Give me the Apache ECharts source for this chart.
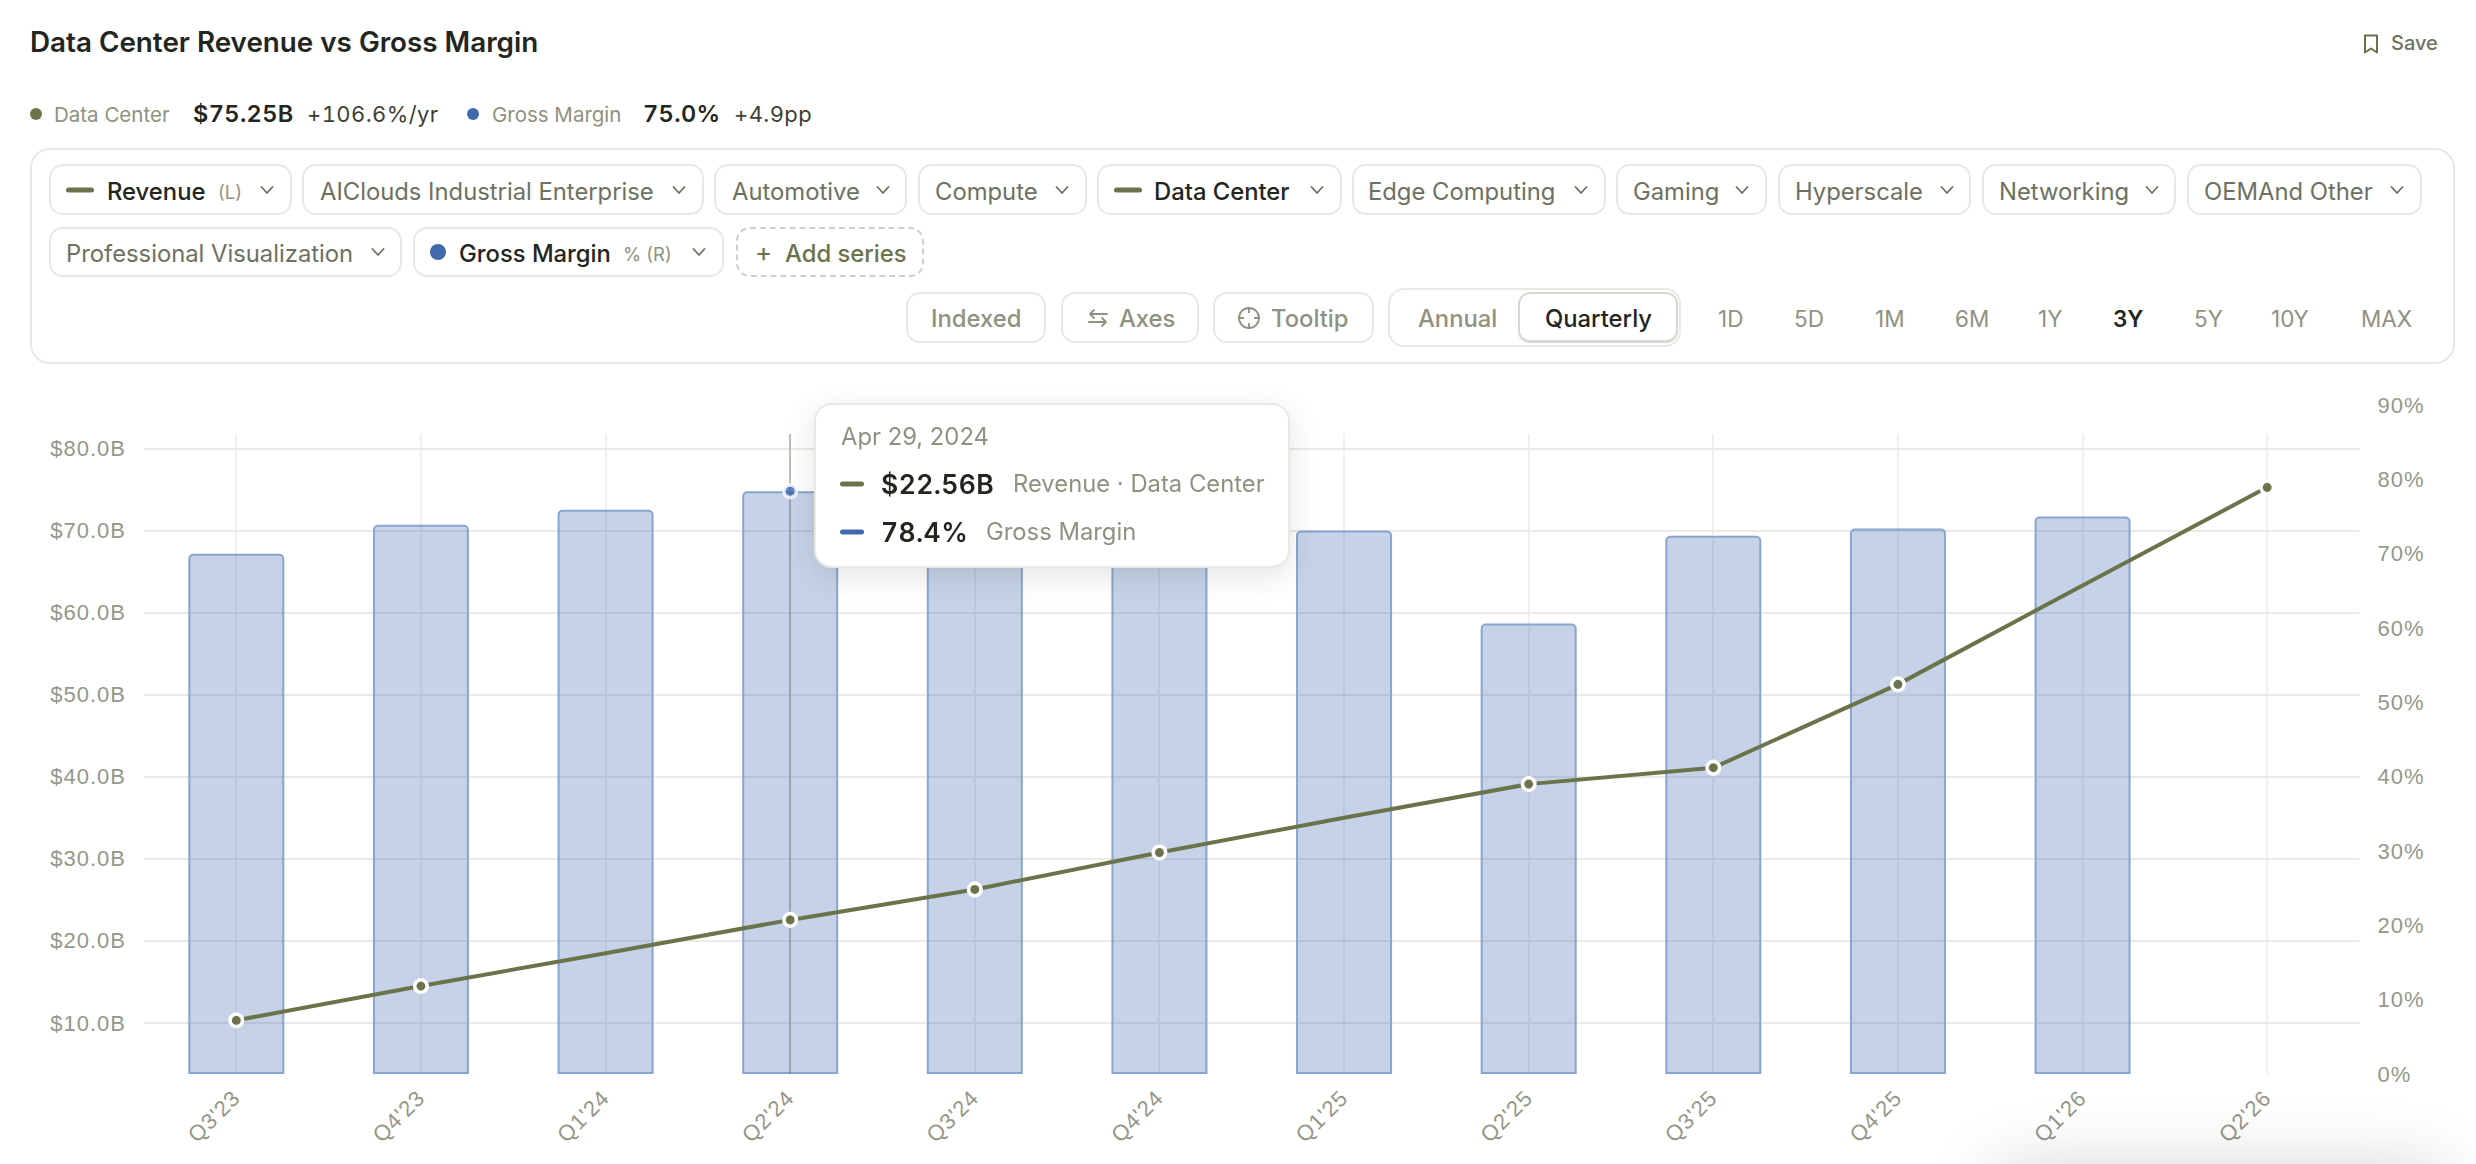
<!DOCTYPE html>
<html><head><meta charset="utf-8">
<script src="https://cdn.jsdelivr.net/npm/echarts@6/dist/echarts.min.js"></script>
<style>
html,body{margin:0;padding:0;background:#fff;width:2476px;height:1164px;overflow:hidden;font-family:Inter,sans-serif}
#chart{position:absolute;left:0;top:0;width:2476px;height:1164px}
#chart svg text{letter-spacing:1px}
.t{position:absolute;white-space:nowrap;line-height:1;transform:translateY(-50%)}
.n{font-variant-numeric:tabular-nums;letter-spacing:.4px}
.box{position:absolute;box-sizing:border-box;border:2px solid #e9e9e3;border-radius:14px;background:#fff}
.ico{position:absolute;transform:translate(-50%,-50%);display:block}
#shade{position:absolute;left:2000px;top:1180px;width:440px;height:60px;box-shadow:0 0 70px 10px rgba(30,40,30,.22);border-radius:30px}
</style></head><body>
<div id="chart"></div>
<div id="shade"></div>
<div id="ui"></div>
<script>
const quarters = ["Q3'23","Q4'23","Q1'24","Q2'24","Q3'24","Q4'24","Q1'25","Q2'25","Q3'25","Q4'25","Q1'26","Q2'26"];
const revenueB = [10.33,14.5,18.5,22.56,26.27,30.77,35.0,39.1,41.1,51.25,63.3,75.25];
const marginPct = [70.0,73.9,75.9,78.4,75.0,73.0,73.1,60.6,72.4,73.4,75.0,null];
const noDotQuarters = ["Q1'24","Q1'25","Q1'26"];
const leftTicks = [10,20,30,40,50,60,70,80];
const hoverQuarter = "Q2'24";
const hoverDate = "Apr 29, 2024";

const OLIVE='#6b734b', BLUE='#4169ae', MUTED='#8f9280', INK='#23261f', SOFT='#6d7162';
const axisFont={fontFamily:'Liberation Sans',fontSize:22,color:'#94978a'};
const hoverIdx=quarters.indexOf(hoverQuarter);

const chart=echarts.init(document.getElementById('chart'),null,{renderer:'svg'});
chart.setOption({
  animation:false,
  backgroundColor:'transparent',
  grid:[
    {left:144,right:116.5,top:405,bottom:90},
    {left:236,right:209,top:434,bottom:90}
  ],
  xAxis:[
    {type:'category',gridIndex:0,data:quarters,axisLine:{show:false},axisTick:{show:false},splitLine:{show:false},
     axisLabel:Object.assign({rotate:45,margin:20,interval:0},axisFont)},
    {type:'category',gridIndex:1,data:quarters,boundaryGap:false,axisLine:{show:false},axisTick:{show:false},axisLabel:{show:false},
     splitLine:{show:true,interval:0,showMinLine:true,showMaxLine:true,lineStyle:{color:'#ebebe6',width:1.5}}}
  ],
  yAxis:[
    {type:'value',gridIndex:0,position:'left',min:3.79,max:85.28,axisLine:{show:false},
     axisTick:{show:false,customValues:leftTicks},
     axisLabel:Object.assign({customValues:leftTicks,margin:18,padding:[0,0,2,0],formatter:v=>'$'+v.toFixed(1)+'B'},axisFont),
     splitLine:{show:true,lineStyle:{color:'#ebebe6',width:2}}},
    {type:'value',gridIndex:0,position:'right',min:0,max:90,interval:10,axisLine:{show:false},axisTick:{show:false},
     axisLabel:Object.assign({margin:18,padding:[0,0,2,0],formatter:v=>v+'%'},axisFont),splitLine:{show:false}},
    {type:'value',gridIndex:1,show:false,min:0,max:1,splitLine:{show:false}}
  ],
  tooltip:{
    show:true,trigger:'item',alwaysShowContent:true,transitionDuration:0,showDelay:0,hideDelay:0,
    position:[814,403],padding:0,borderWidth:0,backgroundColor:'transparent',
    extraCssText:'box-shadow:none;',
    formatter:()=>{
      const dash=c=>`<span style="position:absolute;left:24px;width:24px;height:5px;border-radius:3px;background:${c};transform:translateY(-50%)"></span>`;
      const row=(y,c,v,vx,l,lx)=>`<div style="position:absolute;top:${y}px;left:0">${dash(c)}`+
        `<span class="t n" style="left:${vx}px;font-size:26.5px;font-weight:600;color:${INK}">${v}</span>`+
        `<span class="t" style="left:${lx}px;font-size:23.8px;color:${MUTED}">${l}</span></div>`;
      return `<div style="position:relative;box-sizing:border-box;width:476px;height:165px;background:#fff;border:2px solid #e9e9e3;border-radius:18px;box-shadow:0 8px 30px rgba(40,45,30,.13);font-family:Inter">`+
        `<span class="t" style="left:25px;top:32px;font-size:23.8px;color:${MUTED}">${hoverDate}</span>`+
        row(79,OLIVE,'$'+revenueB[hoverIdx].toFixed(2)+'B',65,'Revenue · Data Center',197)+
        row(127,BLUE,marginPct[hoverIdx].toFixed(1)+'%',65,'Gross Margin',170)+
        `</div>`;
    }
  },
  series:[
    {type:'bar',name:'Gross Margin',xAxisIndex:0,yAxisIndex:1,data:marginPct,barWidth:96,silent:true,tooltip:{show:false},
     itemStyle:{color:'rgba(65,105,174,.3)',borderColor:'#88a4d0',borderWidth:2,borderRadius:[4,4,0,0]},z:2},
    {type:'line',name:'Data Center',xAxisIndex:0,yAxisIndex:0,silent:true,tooltip:{show:false},
     data:revenueB.map((v,i)=>noDotQuarters.includes(quarters[i])?{value:v,symbol:'none'}:{value:v}),
     symbol:'circle',symbolSize:12.5,showAllSymbol:true,lineStyle:{color:OLIVE,width:4},
     itemStyle:{color:OLIVE,borderColor:'#fff',borderWidth:3.5},z:6},
    {type:'scatter',name:'hover',xAxisIndex:0,yAxisIndex:1,data:marginPct.map((v,i)=>i===hoverIdx?v:null),
     symbolSize:12.5,itemStyle:{color:BLUE,borderColor:'#fff',borderWidth:3.5},emphasis:{disabled:true},z:7},
    {type:'line',name:'crosshair',xAxisIndex:1,yAxisIndex:2,data:[],silent:true,tooltip:{show:false},z:4,
     markLine:{silent:true,symbol:'none',animation:false,label:{show:false},
       lineStyle:{color:'rgba(80,80,70,.3)',width:2,type:'solid'},data:[{xAxis:hoverQuarter}]}}
  ]
});
chart.dispatchAction({type:'showTip',seriesIndex:2,dataIndex:hoverIdx});

/* page chrome */
const ui=document.getElementById('ui');
const add=h=>ui.insertAdjacentHTML('beforeend',h);
const text=(x,y,s,size,color,weight,cls)=>add(`<span class="t ${cls||''}" style="left:${x}px;top:${y}px;font-size:${size}px;color:${color};font-weight:${weight||400}">${s}</span>`);
const box=(x0,y0,x1,y1,extra)=>add(`<div class="box" style="left:${x0}px;top:${y0}px;width:${x1-x0}px;height:${y1-y0}px;${extra||''}"></div>`);
const dot=(x,y,r,c)=>add(`<span class="ico" style="left:${x}px;top:${y}px;width:${2*r}px;height:${2*r}px;border-radius:50%;background:${c}"></span>`);
const dash=(x0,x1,y,c)=>add(`<span class="ico" style="left:${(x0+x1)/2}px;top:${y}px;width:${x1-x0}px;height:5px;border-radius:3px;background:${c}"></span>`);
const chev=(x,y)=>add(`<svg class="ico" style="left:${x}px;top:${y}px" width="14" height="9" viewBox="0 0 14 9"><path d="M1.5 1.5 7 7.5 12.5 1.5" fill="none" stroke="#6d7162" stroke-width="1.8" stroke-linecap="round" stroke-linejoin="round"/></svg>`);

text(30,43,'Data Center Revenue vs Gross Margin',27.8,INK,600);
add(`<svg class="ico" style="left:2371px;top:44px" width="16" height="21" viewBox="0 0 16 21"><path d="M2 2h12v17l-6-4-6 4z" fill="none" stroke="#6a7148" stroke-width="2" stroke-linejoin="round"/></svg>`);
text(2391,43,'Save',20,SOFT,500);

dot(36,114,6,OLIVE); text(54,114.5,'Data Center',20.5,MUTED);
text(193,114,'$75.25B',23.5,INK,600,'n'); text(307,114,'+106.6%/yr',22,'#3c3f34',400,'n');
dot(473,114,6,BLUE); text(492,114.5,'Gross Margin',20.5,MUTED);
text(643,114,'75.0%',23.5,INK,600,'n'); text(734,114,'+4.9pp',22,'#3c3f34',400,'n');

box(30,148,2455,364,'border-radius:20px');

const CHIP=23.8;
const R1=[164,215,191.5], R2=[227,277,253.5], R3=[292,343,319];
box(49,R1[0],292,R1[1]); dash(66,94,190,OLIVE); text(107,R1[2],'Revenue',CHIP,INK,500); text(218,R1[2],'(L)',18.5,MUTED); chev(267,190);
box(302,R1[0],704,R1[1]); text(320,R1[2],'AIClouds Industrial Enterprise',CHIP,SOFT); chev(679,190);
box(714,R1[0],907,R1[1]); text(732,R1[2],'Automotive',CHIP,SOFT); chev(883,190);
box(918,R1[0],1087,R1[1]); text(935,R1[2],'Compute',CHIP,SOFT); chev(1062,190);
box(1097,R1[0],1342,R1[1]); dash(1114,1142,190,OLIVE); text(1154,R1[2],'Data Center',CHIP,INK,500); chev(1317,190);
box(1352,R1[0],1606,R1[1]); text(1368,R1[2],'Edge Computing',CHIP,SOFT); chev(1581,190);
box(1616,R1[0],1767,R1[1]); text(1633,R1[2],'Gaming',CHIP,SOFT); chev(1742,190);
box(1778,R1[0],1971,R1[1]); text(1795,R1[2],'Hyperscale',CHIP,SOFT); chev(1947,190);
box(1982,R1[0],2176,R1[1]); text(1999,R1[2],'Networking',CHIP,SOFT); chev(2152,190);
box(2187,R1[0],2422,R1[1]); text(2204,R1[2],'OEMAnd Other',CHIP,SOFT); chev(2397,190);

box(49,R2[0],402,R2[1]); text(66,R2[2],'Professional Visualization',CHIP,SOFT); chev(378,252);
box(413,R2[0],724,R2[1]); dot(438,252,8,BLUE); text(459,R2[2],'Gross Margin',CHIP,INK,500); text(623,R2[2],'% (R)',18.5,MUTED); chev(699,252);
box(736,R2[0],924,R2[1],'border:2px dashed #cfcfc8'); text(755,252,'+',26,OLIVE); text(785,R2[2],'Add series',CHIP,OLIVE,500);

box(906,R3[0],1046,R3[1]); text(931,R3[2],'Indexed',CHIP,MUTED,500);
box(1061,R3[0],1199,R3[1]);
add(`<svg class="ico" style="left:1098px;top:318px" width="22" height="20" viewBox="0 0 22 20"><path d="M20 6H3M7 2 3 6l4 4M2 14h17M15 10l4 4-4 4" fill="none" stroke="#8f9280" stroke-width="1.8" stroke-linecap="round" stroke-linejoin="round"/></svg>`);
text(1119,R3[2],'Axes',CHIP,MUTED,500);
box(1213,R3[0],1374,R3[1]);
add(`<svg class="ico" style="left:1249px;top:318px" width="24" height="24" viewBox="0 0 24 24"><g fill="none" stroke="#8f9280" stroke-width="1.8"><circle cx="12" cy="12" r="10"/><path d="M12 1v6M12 17v6M1 12h6M17 12h6"/></g></svg>`);
text(1271,R3[2],'Tooltip',CHIP,MUTED,500);

box(1388,288,1681,347,'border-radius:16px');
box(1518,292,1678,343,'border-bottom:3px solid #d9d9d3;border-color:#d9d9d3;border-radius:12px');
text(1418,R3[2],'Annual',CHIP,MUTED,500); text(1545,R3[2],'Quarterly',CHIP,INK,500);

const ranges=[['1D',1718],['5D',1794],['1M',1875],['6M',1955],['1Y',2038],['3Y',2113],['5Y',2194],['10Y',2271],['MAX',2361]];
ranges.forEach(([s,x])=>text(x,R3[2],s,22.5,s==='3Y'?INK:MUTED,s==='3Y'?600:400));
</script>
</body></html>
